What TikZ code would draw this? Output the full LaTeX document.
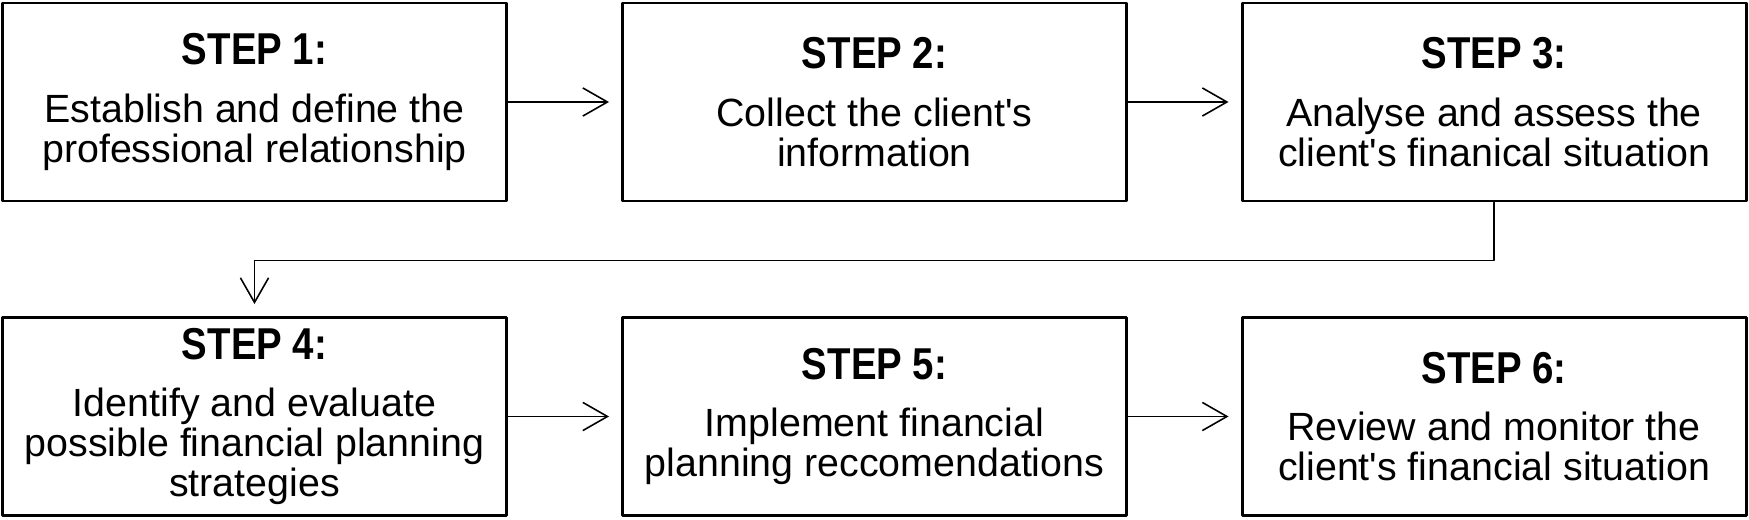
\documentclass[tikz,border=0pt]{standalone}
\usepackage{fontspec}
\setmainfont{Liberation Sans}
\newfontfamily\headfont[FakeStretch=0.86]{Liberation Sans}
\usetikzlibrary{arrows.meta}

\newcommand{\stepfont}{\fontsize{11.2}{11.4}\selectfont\lineskiplimit=-6pt\relax}
\newcommand{\stephead}[1]{{\headfont\bfseries\fontsize{12.7}{11.4}\selectfont #1}\\[5pt]}
\newcommand{\q}{\textquotesingle}
\tikzset{
	stepbox/.style={draw, line width=0.85pt, minimum width=5.04cm, minimum height=1.98cm,
		inner sep=0pt, align=center, font=\stepfont},
	flow/.style={->, line width=0.45pt, shorten >=0.12cm},
}

\begin{document}
\begin{tikzpicture}[>={Straight Barb[length=7pt,width=8pt]}, line cap=round, line join=round]
	\useasboundingbox (0,0) rectangle (17.49,5.19);
	
	%========================
	% Top row: steps 1-3
	%========================
	\node[stepbox] (s1) at (2.545,4.17) {\stephead{STEP 1:}Establish and define the\\professional relationship};
	\node[stepbox] (s2) at (8.745,4.17) {\stephead{STEP 2:}Collect the client\q s\\information};
	\node[stepbox] (s3) at (14.94,4.17) {\stephead{STEP 3:}Analyse and assess the\\client\q s finanical situation};
	
	%========================
	% Bottom row: steps 4-6
	%========================
	\node[stepbox] (s4) at (2.545,1.025) {\stephead{STEP 4:}Identify and evaluate\\possible financial planning\\strategies};
	\node[stepbox] (s5) at (8.745,1.025) {\stephead{STEP 5:}Implement financial\\planning reccomendations};
	\node[stepbox] (s6) at (14.94,1.025) {\stephead{STEP 6:}Review and monitor the\\client\q s financial situation};
	
	% arrows along the rows
	\draw[flow] (s1) -- (s2);
	\draw[flow] (s2) -- (s3);
	\draw[flow] (s4) -- (s5);
	\draw[flow] (s5) -- (s6);
	
	% back to the start of the second row
	\draw[flow] (s3.south) -- ++(0,-0.58) -| (s4.north);
\end{tikzpicture}
\end{document}
